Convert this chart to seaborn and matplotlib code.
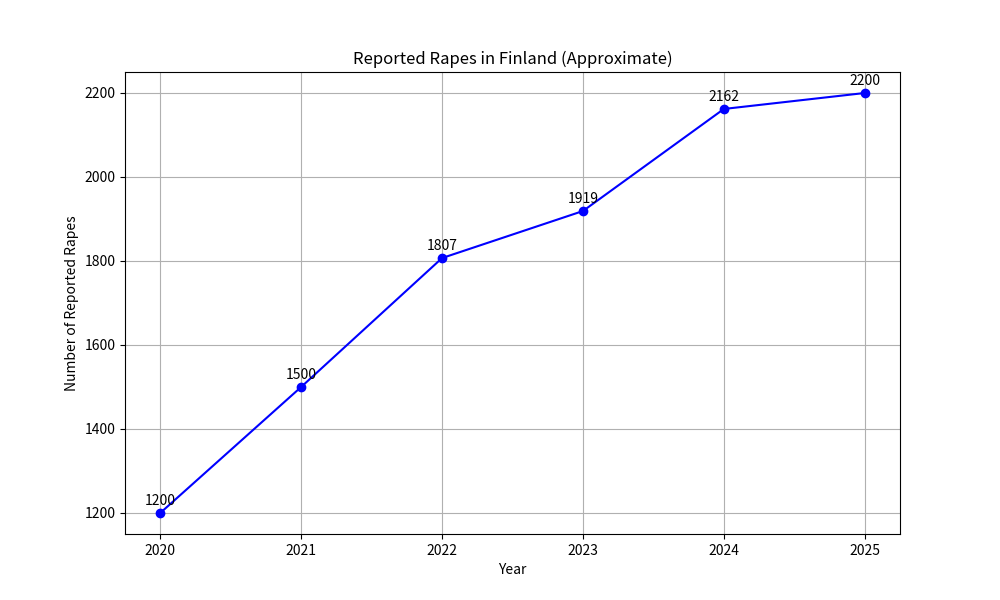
import matplotlib
matplotlib.use("Agg")
import matplotlib.pyplot as plt
import seaborn as sns
import pandas as pd

years = [2020, 2021, 2022, 2023, 2024, 2025]
rapes = [1200, 1500, 1807, 1919, 2162, 2200]

plt.rcParams['font.family'] = ['Noto Sans CJK JP', 'DejaVu Sans']

df = pd.DataFrame({"Year": years, "Rapes": rapes})

fig, ax = plt.subplots(figsize=(10, 6), dpi=100)
sns.lineplot(data=df, x="Year", y="Rapes", marker="o", color="blue",
             markeredgecolor="blue", markersize=6, markeredgewidth=1, ax=ax)
for x, y in zip(years, rapes):
    ax.annotate(str(y), (x, y), textcoords="offset points", xytext=(0, 6),
                ha="center")
ax.set_title("Reported Rapes in Finland (Approximate)")
ax.set_xlabel("Year")
ax.set_ylabel("Number of Reported Rapes")
ax.set_xticks(years)
ax.grid(True)
fig.savefig("out.png")
